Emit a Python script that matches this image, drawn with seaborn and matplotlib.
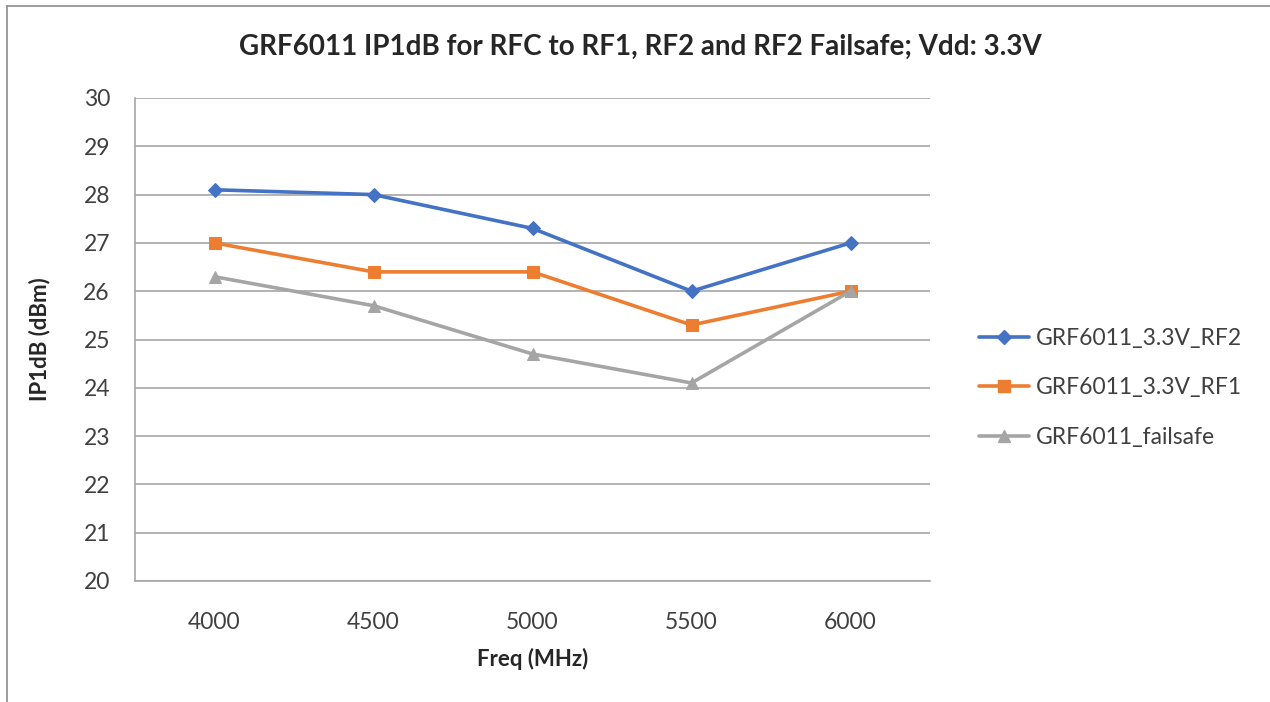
import matplotlib
matplotlib.use("Agg")
import matplotlib.pyplot as plt
import seaborn as sns
import pandas as pd
from matplotlib.lines import Line2D

categories = ["4000", "4500", "5000", "5500", "6000"]
rf2 = [28.1, 28.0, 27.3, 26.0, 27.0]
rf1 = [27.0, 26.4, 26.4, 25.3, 26.0]
failsafe = [26.3, 25.7, 24.7, 24.1, 26.0]
series_names = ["GRF6011_3.3V_RF2", "GRF6011_3.3V_RF1", "GRF6011_failsafe"]
colors = ["#4472C4", "#ED7D31", "#A5A5A5"]
markers = ["D", "s", "^"]
msizes = [7, 9, 9]

sns.set_theme(style="white")
plt.rcParams['font.family'] = ['Lato', 'DejaVu Sans']

rows = []
for name, vals in zip(series_names, [rf2, rf1, failsafe]):
    for i, v in enumerate(vals):
        rows.append({"pos": i, "val": v, "series": name})
df = pd.DataFrame(rows)

fig = plt.figure(figsize=(12.7, 7.02), dpi=100)
ax = fig.add_axes([135/1270, 1 - 581/702, (930-135)/1270, (581-98)/702])

for name, c, m, ms in zip(series_names, colors, markers, msizes):
    sub = df[df["series"] == name]
    sns.lineplot(data=sub, x="pos", y="val", ax=ax, color=c, marker=m,
                 markersize=ms, markeredgecolor=c, linewidth=2.6, label=name,
                 legend=False)

ax.set_xlim(-0.5, 4.5)
ax.set_ylim(20, 30)
ax.set_yticks(range(20, 31))
ax.set_xticks(range(len(categories)))
ax.set_xticklabels(categories)
ax.tick_params(axis='y', length=10, color="#A6A6A6", labelsize=16.5, labelcolor="#404040", pad=8)
ax.tick_params(axis='x', length=0, labelsize=16.5, labelcolor="#404040", pad=22)
ax.grid(axis='y', color="#A6A6A6", linewidth=1.2)
ax.grid(axis='x', visible=False)
for s in ["top", "right"]:
    ax.spines[s].set_visible(False)
for s in ["left", "bottom"]:
    ax.spines[s].set_color("#A6A6A6")
    ax.spines[s].set_linewidth(1.2)
ax.set_axisbelow(True)

ax.set_xlabel("Freq (MHz)", fontsize=16, fontweight="bold", color="#262626", labelpad=11)
ax.set_ylabel("IP1dB (dBm)", fontsize=16, fontweight="bold", color="#262626", labelpad=24)

fig.text(640/1270, 1 - 47/702, "GRF6011 IP1dB for RFC to RF1, RF2 and RF2 Failsafe; Vdd: 3.3V",
         ha="center", va="center", fontsize=20, fontweight="bold", color="#262626")

handles = [Line2D([0], [0], color=c, marker=m, markersize=ms, markeredgecolor=c, linewidth=2.6)
           for c, m, ms in zip(colors, markers, msizes)]
leg = fig.legend(handles, series_names, loc="center left",
                 bbox_to_anchor=(958/1270, 1 - 388/702), frameon=False,
                 fontsize=16.5, labelcolor="#404040", handlelength=2.2,
                 labelspacing=1.25, handletextpad=0.3)

# outer chart frame
fig.add_artist(Line2D([7/1270, 1], [1 - 6/702, 1 - 6/702], color="#8C8C8C", linewidth=1.2,
                      transform=fig.transFigure))
fig.add_artist(Line2D([7/1270, 7/1270], [0, 1 - 6/702], color="#8C8C8C", linewidth=1.2,
                      transform=fig.transFigure))

fig.savefig("out.png", dpi=100)
